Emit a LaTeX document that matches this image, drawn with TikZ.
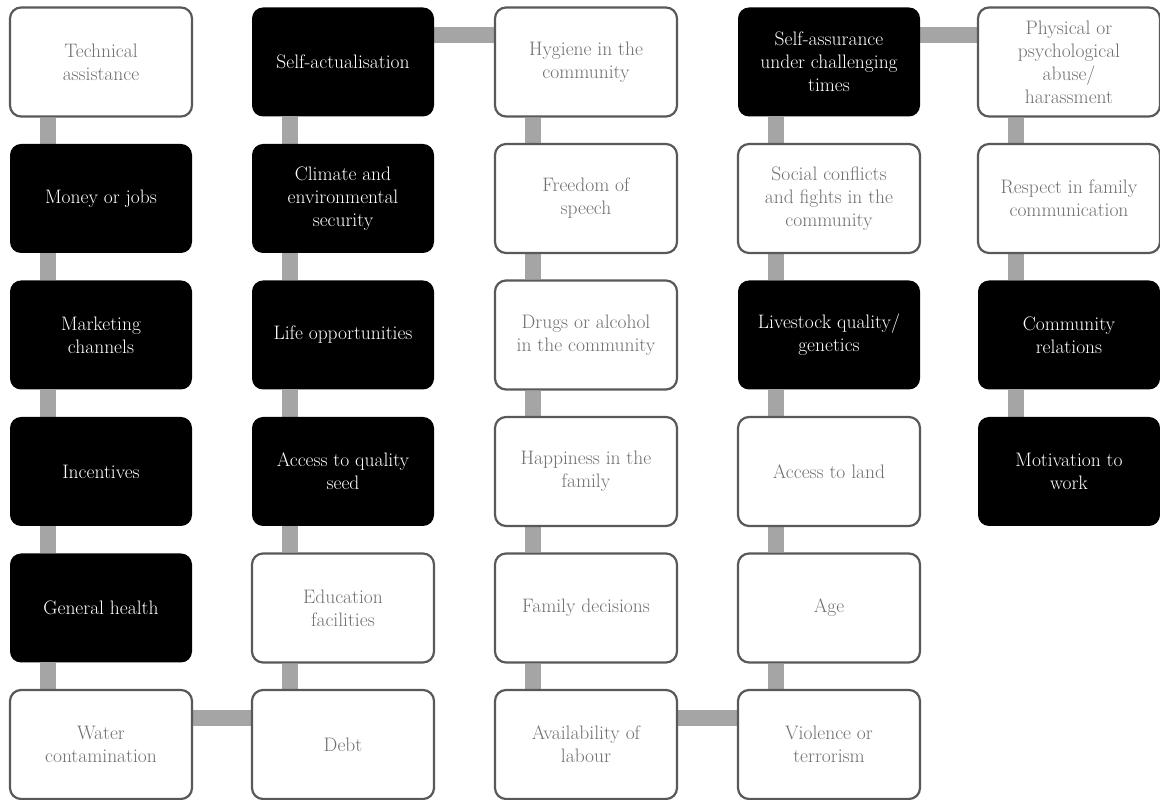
\documentclass[tikz,border=0pt]{standalone}
\usepackage{tikz}
\usetikzlibrary{positioning, backgrounds}
\definecolor{boxline}{HTML}{595959}
\definecolor{boxtext}{HTML}{707070}
\definecolor{linkgray}{HTML}{A5A5A5}

\begin{document}
\begin{tikzpicture}[
    x=1pt, y=1pt,
    every node/.style={font=\fontsize{19.5}{23}\selectfont, align=center},
    item/.style={rectangle, rounded corners=11pt, minimum width=182pt, minimum height=109pt, inner sep=2pt},
    lightbox/.style={item, draw=boxline, line width=2.2pt, fill=white, text=boxtext},
    darkbox/.style={item, fill=black, text=white},
    link/.style={draw=linkgray, line width=16pt},
    down/.style={xshift=-53pt},
    across/.style={yshift=26.5pt}
]
    \useasboundingbox (0,0) rectangle (1160,800);

    % Column 1, read downwards.
    \node[lightbox] (tech) at (101,738) {Technical\\assistance};
    \node[darkbox] (money) at (101,601.5) {Money or jobs};
    \node[darkbox] (marketing) at (101,465) {Marketing\\channels};
    \node[darkbox] (incentives) at (101,328.5) {Incentives};
    \node[darkbox] (health) at (101,192) {General health};
    \node[lightbox] (water) at (101,55.5) {Water\\contamination};

    % Column 2, read upwards.
    \node[darkbox] (selfact) at (343,738) {Self-actualisation};
    \node[darkbox] (climate) at (343,601.5) {Climate and\\environmental\\security};
    \node[darkbox] (lifeopp) at (343,465) {Life opportunities};
    \node[darkbox] (seed) at (343,328.5) {Access to quality\\seed};
    \node[lightbox] (education) at (343,192) {Education\\facilities};
    \node[lightbox] (debt) at (343,55.5) {Debt};

    % Column 3, read downwards.
    \node[lightbox] (hygiene) at (586,738) {Hygiene in the\\community};
    \node[lightbox] (speech) at (586,601.5) {Freedom of\\speech};
    \node[lightbox] (drugs) at (586,465) {Drugs or alcohol\\in the community};
    \node[lightbox] (happiness) at (586,328.5) {Happiness in the\\family};
    \node[lightbox] (decisions) at (586,192) {Family decisions};
    \node[lightbox] (labour) at (586,55.5) {Availability of\\labour};

    % Column 4, read upwards.
    \node[darkbox] (assurance) at (829,738) {Self-assurance\\under challenging\\times};
    \node[lightbox] (conflicts) at (829,601.5) {Social conflicts\\and fights in the\\community};
    \node[darkbox] (livestock) at (829,465) {Livestock quality/\\genetics};
    \node[lightbox] (land) at (829,328.5) {Access to land};
    \node[lightbox] (age) at (829,192) {Age};
    \node[lightbox] (violence) at (829,55.5) {Violence or\\terrorism};

    % Column 5, read downwards.
    \node[lightbox] (abuse) at (1069,738) {Physical or\\psychological\\abuse/\\harassment};
    \node[lightbox] (respect) at (1069,601.5) {Respect in family\\communication};
    \node[darkbox] (relations) at (1069,465) {Community\\relations};
    \node[darkbox] (motivation) at (1069,328.5) {Motivation to\\work};

    \begin{scope}[on background layer]
    \draw[link] ([down]tech.south) -- ([down]money.north);
    \draw[link] ([down]money.south) -- ([down]marketing.north);
    \draw[link] ([down]marketing.south) -- ([down]incentives.north);
    \draw[link] ([down]incentives.south) -- ([down]health.north);
    \draw[link] ([down]health.south) -- ([down]water.north);
    \draw[link] ([across]water.east) -- ([across]debt.west);
    \draw[link] ([down]education.south) -- ([down]debt.north);
    \draw[link] ([down]seed.south) -- ([down]education.north);
    \draw[link] ([down]lifeopp.south) -- ([down]seed.north);
    \draw[link] ([down]climate.south) -- ([down]lifeopp.north);
    \draw[link] ([down]selfact.south) -- ([down]climate.north);
    \draw[link] ([across]selfact.east) -- ([across]hygiene.west);
    \draw[link] ([down]hygiene.south) -- ([down]speech.north);
    \draw[link] ([down]speech.south) -- ([down]drugs.north);
    \draw[link] ([down]drugs.south) -- ([down]happiness.north);
    \draw[link] ([down]happiness.south) -- ([down]decisions.north);
    \draw[link] ([down]decisions.south) -- ([down]labour.north);
    \draw[link] ([across]labour.east) -- ([across]violence.west);
    \draw[link] ([down]age.south) -- ([down]violence.north);
    \draw[link] ([down]land.south) -- ([down]age.north);
    \draw[link] ([down]livestock.south) -- ([down]land.north);
    \draw[link] ([down]conflicts.south) -- ([down]livestock.north);
    \draw[link] ([down]assurance.south) -- ([down]conflicts.north);
    \draw[link] ([across]assurance.east) -- ([across]abuse.west);
    \draw[link] ([down]abuse.south) -- ([down]respect.north);
    \draw[link] ([down]respect.south) -- ([down]relations.north);
    \draw[link] ([down]relations.south) -- ([down]motivation.north);
    \end{scope}
\end{tikzpicture}
\end{document}
